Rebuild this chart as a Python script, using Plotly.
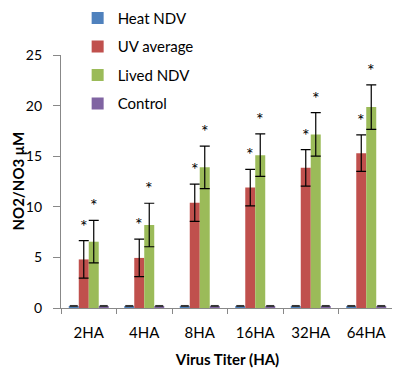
import plotly.graph_objects as go

categories = ["2HA", "4HA", "8HA", "16HA", "32HA", "64HA"]
series_names = ["Heat NDV", "UV average", "Lived NDV", "Control"]
heat_vals = [0.2, 0.2, 0.2, 0.2, 0.2, 0.2]
heat_err = [0.05, 0.05, 0.05, 0.05, 0.05, 0.05]
uv_vals = [4.8, 4.95, 10.4, 11.9, 13.85, 15.3]
uv_err = [1.85, 1.85, 1.85, 1.8, 1.8, 1.8]
lived_vals = [6.55, 8.2, 13.9, 15.1, 17.15, 19.85]
lived_err = [2.1, 2.15, 2.1, 2.1, 2.15, 2.2]
ctrl_vals = [0.2, 0.2, 0.2, 0.2, 0.2, 0.2]
ctrl_err = [0.05, 0.05, 0.05, 0.05, 0.05, 0.05]
y_ticks = [0, 5, 10, 15, 20, 25]
y_title = "<b>NO2/NO3 μM</b>"
x_title = "<b>Virus Titer (HA)</b>"
colors = ["#4F81BD", "#C0504D", "#9BBB59", "#8064A2"]

FONT = "Lato"
bargap = 0.28
xs = list(range(len(categories)))

fig = go.Figure()
all_vals = [heat_vals, uv_vals, lived_vals, ctrl_vals]
all_err = [heat_err, uv_err, lived_err, ctrl_err]
for k, (name, v, e, c) in enumerate(zip(series_names, all_vals, all_err, colors)):
    big = k in (1, 2)
    fig.add_trace(go.Bar(
        x=xs, y=v, name=name, marker_color=c, marker_line_width=0,
        legendgroup=name,
        error_y=dict(type="data", array=e, visible=True,
                     color="black" if big else "#333333",
                     thickness=1.2 if big else 1, width=5 if big else 4),
    ))

bw = (1 - bargap) / 4
for k, (v, e) in [(1, (uv_vals, uv_err)), (2, (lived_vals, lived_err))]:
    off = (k - 1.5) * bw
    for i in xs:
        fig.add_annotation(x=i + off, y=v[i] + e[i], text="*", showarrow=False,
                           yshift=15, font=dict(family=FONT, size=18, color="#000000"))

fig.add_annotation(xref="paper", yref="paper", x=-0.132, y=0.5, text=y_title,
                   textangle=-90, showarrow=False, xanchor="center", yanchor="middle",
                   font=dict(family=FONT, size=15, color="black"))

fig.update_layout(
    width=400, height=370,
    margin=dict(l=53, r=14, t=47, b=70, autoexpand=False),
    plot_bgcolor="white", paper_bgcolor="white",
    barmode="group", bargap=bargap, bargroupgap=0,
    font=dict(family=FONT, size=14, color="black"),
    legend=dict(x=0.05, y=1.21, xanchor="left", yanchor="top",
                font=dict(family=FONT, size=15), traceorder="grouped",
                tracegroupgap=6, bgcolor="rgba(0,0,0,0)", itemwidth=30),
    xaxis=dict(
        tickmode="array", tickvals=xs, ticktext=categories,
        range=[-0.5, len(categories) - 0.5],
        showline=True, linecolor="#888", linewidth=1,
        ticks="outside", ticklen=11, tickcolor="rgba(0,0,0,0)",
        showgrid=False, zeroline=False,
        minor=dict(tick0=-0.5, dtick=1, ticks="outside", ticklen=5, tickcolor="#888"),
        title=dict(text=x_title, font=dict(family=FONT, size=15), standoff=14),
        tickfont=dict(family=FONT, size=15),
    ),
    yaxis=dict(
        range=[0, 25], tickmode="array", tickvals=y_ticks,
        ticktext=[f"{t}\u2007" for t in y_ticks],
        showline=True, linecolor="#888", linewidth=1,
        ticks="outside", ticklen=7, tickcolor="#888", showgrid=False, zeroline=False,
        tickfont=dict(family=FONT, size=14),
    ),
)
fig.write_html("out.html")
